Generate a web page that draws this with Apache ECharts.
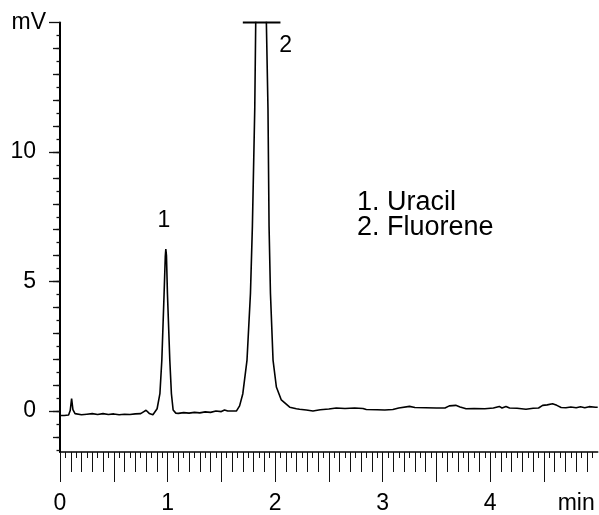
<!DOCTYPE html>
<html><head><meta charset="utf-8">
<script src="https://cdn.jsdelivr.net/npm/echarts@6/dist/echarts.min.js"></script>
<style>html,body{margin:0;padding:0;background:#fff}#c{width:599px;height:515px}</style>
</head><body><div id="c"></div>
<script>
// chromatogram trace: retention time (min) and detector signal (mV)
const timeMin = [
  0.00, 0.04, 0.08, 0.095, 0.108, 0.12, 0.14, 0.20, 0.25, 0.30, 0.35, 0.40, 0.45, 0.50, 0.55, 0.60, 0.65, 0.70, 0.75, 0.78, 0.80, 0.83, 0.864,
  0.903, 0.929, 0.947, 0.968, 0.979, 0.984, 0.990, 0.999, 1.021, 1.036, 1.052, 1.077,
  1.10, 1.15, 1.20, 1.25, 1.30, 1.35, 1.40, 1.45, 1.50, 1.53, 1.56, 1.60, 1.64,
  1.67, 1.70, 1.739, 1.771, 1.789, 1.811, 1.820, 1.830, 1.875, 1.915, 1.919, 1.934, 1.944, 1.957, 1.981, 2.012, 2.058, 2.136, 2.198,
  2.228, 2.29, 2.352, 2.42, 2.50, 2.569, 2.65, 2.74, 2.817, 2.848, 2.95, 3.02, 3.095, 3.15, 3.25, 3.30, 3.40, 3.50, 3.58, 3.62, 3.68, 3.72, 3.745, 3.776,
  3.85, 3.95, 4.03, 4.085, 4.11, 4.147, 4.18, 4.25, 4.333, 4.40, 4.45, 4.488, 4.53, 4.58, 4.62, 4.66, 4.704, 4.75, 4.80, 4.84, 4.88, 4.92, 4.98, 5.00
];
const signalMV = [
  -0.17, -0.17, -0.15, 0.02, 0.48, 0.06, -0.10, -0.14, -0.12, -0.10, -0.13, -0.10, -0.13, -0.11, -0.14, -0.12, -0.13, -0.11, -0.10, -0.02, 0.03, -0.09, -0.14,
  0.09, 0.67, 1.97, 4.54, 5.96, 6.25, 6.00, 4.54, 1.97, 0.67, 0.04, -0.08,
  -0.09, -0.06, -0.08, -0.05, -0.07, -0.03, -0.05, 0.00, -0.02, 0.04, 0.00, 0.00, 0.00,
  0.20, 0.67, 1.97, 4.54, 7.13, 11.67, 15.00, 18.0, 22.0, 18.0, 15.00, 11.67, 7.13, 4.54, 1.97, 0.93, 0.43, 0.15, 0.09,
  0.07, 0.04, 0.00, 0.05, 0.08, 0.12, 0.10, 0.12, 0.10, 0.06, 0.05, 0.04, 0.06, 0.12, 0.18, 0.14, 0.13, 0.12, 0.12, 0.20, 0.22, 0.16, 0.13, 0.09,
  0.10, 0.09, 0.12, 0.18, 0.12, 0.18, 0.12, 0.11, 0.07, 0.11, 0.12, 0.22, 0.24, 0.28, 0.22, 0.14, 0.13, 0.16, 0.13, 0.17, 0.13, 0.17, 0.15, 0.15
];
// peak annotations
const peakLabelNames = ['1', '2'];
const peakLabelTimes = [0.966, 2.098];
const peakLabelValues = [7.35, 14.1];
// off-scale marker bar above peak 2
const capTimes = [1.70, 2.05];
// axis labels
const xLabelValues = [0, 1, 2, 3, 4];
const yLabelValues = [0, 5, 10];
const xAxisTitle = 'min';
const yAxisTitle = 'mV';
const legendLines = ['1. Uracil', '2. Fluorene'];

const X_MIN = 0, X_MAX = 5, Y_MIN = -1.58, Y_MAX = 15;
const FONT = '"Liberation Sans", Arial, sans-serif';

function steps(from, to, step) {
  const out = [];
  const n = Math.round((to - from) / step);
  for (let k = 0; k <= n; k++) out.push(Math.round((from + k * step) * 1000) / 1000);
  return out;
}
const xTicksShort = steps(0, 4.95, 0.05);
const xTicksMid = steps(0, 4.9, 0.1);
const xTicksLong = steps(0, 4.5, 0.5);
const yTicksHalf = steps(-1.5, 14.5, 0.5);
const yTicksInt = steps(-1, 14, 1);
const yTicksMajor = yLabelValues.concat([Y_MAX]);

function xAx(ticks, len, main) {
  return {
    type: 'value', min: X_MIN, max: X_MAX, position: 'bottom',
    axisLine: { show: !!main, onZero: false, lineStyle: { color: '#000', width: 1.6 } },
    axisTick: { show: true, customValues: ticks, length: len, inside: false, lineStyle: { color: '#111', width: 1 } },
    axisLabel: main ? { show: true, customValues: xLabelValues, margin: 40, color: '#000', fontSize: 23, fontFamily: FONT } : { show: false },
    splitLine: { show: false },
    name: main ? xAxisTitle : '', nameLocation: 'end', nameGap: 0,
    nameTextStyle: { color: '#000', fontSize: 23, fontFamily: FONT, align: 'right', verticalAlign: 'top', padding: [40, 3, 0, 0] }
  };
}
function yAx(ticks, len, main) {
  return {
    type: 'value', min: Y_MIN, max: Y_MAX, position: 'left',
    axisLine: { show: !!main, onZero: false, lineStyle: { color: '#000', width: 2 } },
    axisTick: { show: true, customValues: ticks, length: len, inside: false, lineStyle: { color: '#111', width: 1.3 } },
    axisLabel: main ? { show: true, customValues: yLabelValues, margin: 24, color: '#000', fontSize: 23, fontFamily: FONT } : { show: false },
    splitLine: { show: false },
    name: main ? yAxisTitle : '', nameLocation: 'end', nameGap: 0,
    nameTextStyle: { color: '#000', fontSize: 23, fontFamily: FONT, align: 'right', verticalAlign: 'middle', padding: [0, 14, 0, 0] }
  };
}

const chart = echarts.init(document.getElementById('c'), null, { renderer: 'canvas' });
chart.setOption({
  animation: false,
  backgroundColor: '#fff',
  grid: { left: 60, right: 1.3, top: 22.5, bottom: 60, containLabel: false },
  xAxis: [xAx(xTicksShort, 6, true), xAx(xTicksMid, 20, false), xAx(xTicksLong, 30, false)],
  yAxis: [yAx(yTicksMajor, 11, true), yAx(yTicksInt, 7, false), yAx(yTicksHalf, 3.5, false)],
  graphic: [{
    type: 'text', left: 357, top: 189,
    style: { text: legendLines.join('\n'), fontSize: 27, fontFamily: FONT, fill: '#000', lineHeight: 25 }
  }],
  series: [
    {
      type: 'line', xAxisIndex: 0, yAxisIndex: 0, symbol: 'none', clip: true,
      lineStyle: { color: '#000', width: 1.6 },
      data: timeMin.map((t, i) => [t, signalMV[i]])
    },
    {
      type: 'line', xAxisIndex: 0, yAxisIndex: 0, symbol: 'none', clip: false,
      lineStyle: { color: '#000', width: 1.8 },
      data: capTimes.map(t => [t, Y_MAX])
    },
    {
      type: 'scatter', xAxisIndex: 0, yAxisIndex: 0, symbolSize: 0, silent: true,
      itemStyle: { color: '#000', opacity: 1 },
      label: { show: true, position: 'inside', formatter: '{b}', color: '#000', opacity: 1, textBorderWidth: 0, fontSize: 23, fontFamily: FONT },
      data: peakLabelNames.map((n, i) => ({ name: n, value: [peakLabelTimes[i], peakLabelValues[i]] }))
    }
  ]
});
</script>
</body></html>
